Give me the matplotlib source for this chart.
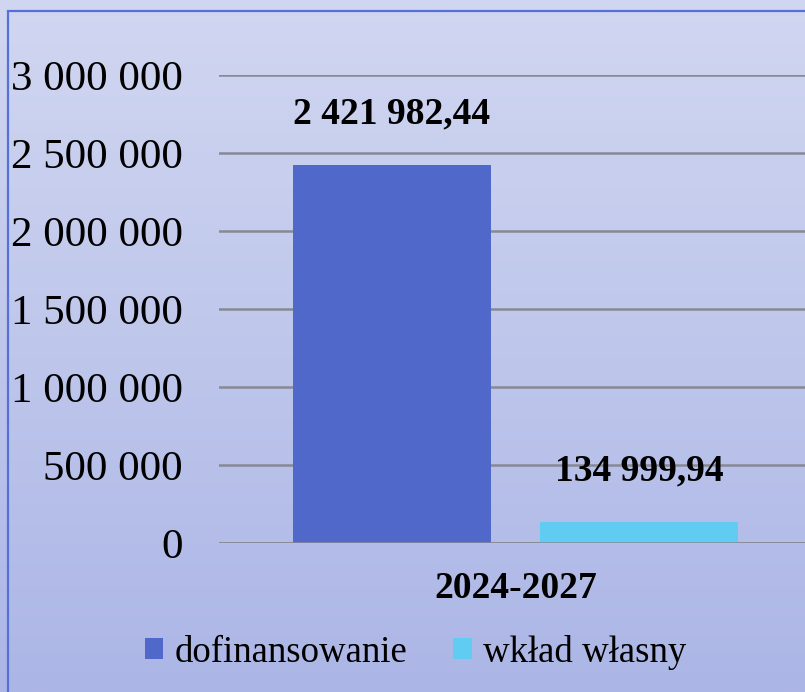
import numpy as np
import matplotlib
matplotlib.use("Agg")
import matplotlib.pyplot as plt
from matplotlib.patches import Rectangle

# === Daten ===
kategorie = ["2024-2027"]
serien = ["dofinansowanie", "wkład własny"]
werte = [2421982.44, 134999.94]
etiketten = ["2 421 982,44", "134 999,94"]
farben = ["#4F68C9", "#61CCF2"]
y_ticks = [0, 500000, 1000000, 1500000, 2000000, 2500000, 3000000]
y_labels = ["0", "500 000", "1 000 000", "1 500 000", "2 000 000", "2 500 000", "3 000 000"]

W, H = 805, 692
plt.rcParams['font.family'] = ['Liberation Serif', 'DejaVu Serif']

fig = plt.figure(figsize=(W / 100, H / 100), dpi=100)

# Hintergrund mit Farbverlauf
bg = fig.add_axes([0, 0, 1, 1], zorder=0)
grad = np.linspace(0, 1, 256)[:, None]
top = np.array([0xD1, 0xD7, 0xF1]) / 255
bot = np.array([0xAC, 0xB6, 0xE6]) / 255
img = top[None, None, :] * (1 - grad[:, :, None]) + bot[None, None, :] * grad[:, :, None]
bg.imshow(img, aspect='auto', extent=[0, 1, 0, 1], origin='upper')
bg.set_xlim(0, 1)
bg.set_ylim(0, 1)
bg.axis('off')
# Rahmen
bg.add_patch(Rectangle((8 / W, -0.1), 1.2, 1 - 11 / H + 0.1, fill=False,
                       edgecolor='#5670D8', linewidth=1.6))

# Diagrammbereich
left, right = 219, 812
y0, y3 = 543, 75
ax = fig.add_axes([left / W, 1 - y0 / H, (right - left) / W, (y0 - y3) / H], zorder=1)
ax.set_facecolor('none')

breite = 198 / (right - left)
versatz = 123.5 / (right - left)
pos = [-versatz, versatz]
for p, v, f, s, e in zip(pos, werte, farben, serien, etiketten):
    ax.bar(p, v, width=breite, color=f, label=s, zorder=2)
    ax.annotate(e, (p, v), xytext=(0, 37), textcoords='offset points',
                ha='center', va='center', fontsize=27, fontweight='bold')

ax.set_xlim(-0.5, 0.5)
ax.set_ylim(0, 3000000)
ax.set_yticks(y_ticks)
ax.set_yticklabels(y_labels, fontsize=31)
ax.set_xticks([0])
ax.set_xticklabels(kategorie, fontsize=27, fontweight='bold')
ax.tick_params(axis='y', length=0, pad=26)
ax.tick_params(axis='x', length=0, pad=20)
ax.grid(axis='y', color='#878994', linewidth=1.8, zorder=1)
for sp in ax.spines.values():
    sp.set_visible(False)
ax.axhline(0, color='#878994', linewidth=1.8, zorder=3)
ax.set_axisbelow(True)

fig.legend(loc='center', bbox_to_anchor=(415.5 / W, 1 - 652 / H), ncol=2,
           frameon=False, fontsize=26.5, handlelength=0.5, handleheight=0.5,
           handletextpad=0.3, columnspacing=1.25, borderpad=0)

fig.savefig("out.png", dpi=100)
